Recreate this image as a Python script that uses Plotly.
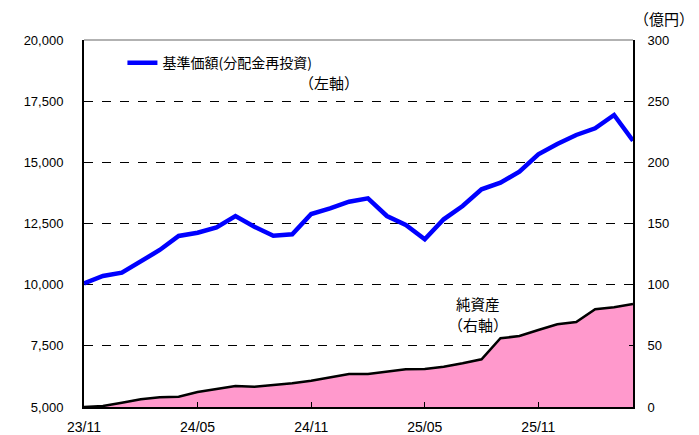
import plotly.graph_objects as go

months = ["23/11", "23/12", "24/01", "24/02", "24/03", "24/04", "24/05", "24/06", "24/07", "24/08",
          "24/09", "24/10", "24/11", "24/12", "25/01", "25/02", "25/03", "25/04", "25/05", "25/06",
          "25/07", "25/08", "25/09", "25/10", "25/11", "25/12", "26/01", "26/02", "26/03", "26/04"]

nav = [10056, 10354, 10489, 10938, 11417, 11989, 12124, 12344, 12806, 12369,
       12001, 12058, 12888, 13121, 13391, 13530, 12806, 12438, 11854, 12671,
       13215, 13897, 14167, 14617, 15328, 15749, 16117, 16390, 16934, 15884]

net_assets = [0.0, 0.8, 3.5, 6.3, 7.9, 8.4, 12.3, 14.5, 17.2, 16.6,
              17.7, 19.4, 21.5, 24.5, 27.0, 27.0, 28.9, 30.8, 31.1, 32.9,
              35.7, 39.0, 56.2, 58.0, 62.9, 67.6, 69.5, 79.9, 81.5, 84.2]

tick_months = ["23/11", "24/05", "24/11", "25/05", "25/11"]
left_ticks = [5000, 7500, 10000, 12500, 15000, 17500, 20000]
right_ticks = [0, 50, 100, 150, 200, 250, 300]

idx = list(range(len(months)))
tick_idx = [months.index(m) for m in tick_months]

NUM_FONT = "Liberation Sans, Arial, sans-serif"
JP_FONT = "Noto Sans CJK JP, sans-serif"

fig = go.Figure()

fig.add_trace(go.Scatter(
    x=idx, y=net_assets, yaxis="y2", mode="lines",
    fill="tozeroy", fillcolor="#FF99CC",
    line=dict(color="black", width=2.5),
    name="純資産(右軸)", showlegend=False, hoverinfo="skip"))

fig.add_trace(go.Scatter(
    x=idx, y=nav, yaxis="y", mode="lines",
    line=dict(color="#0000FF", width=4.5),
    name="基準価額(分配金再投資)", showlegend=True))

# page body has an 8px default margin; size the figure so the plot area lands where the reference has it
fig.update_layout(
    width=691, height=427,
    margin=dict(l=76, r=66, t=32, b=28, autoexpand=False),
    paper_bgcolor="white", plot_bgcolor="white",
    font=dict(family=NUM_FONT, size=12, color="black"),
    xaxis=dict(
        range=[0, len(months) - 1], tickmode="array",
        tickvals=tick_idx, ticktext=tick_months,
        ticks="inside", ticklen=5, tickcolor="black", tickwidth=1,
        showline=True, linecolor="black", linewidth=2,
        showgrid=False, zeroline=False, automargin=False,
        tickfont=dict(family=NUM_FONT, size=14),
        ticklabelstandoff=6,
    ),
    yaxis=dict(
        range=[5000, 20000], tickmode="array", tickvals=left_ticks,
        ticktext=[f"{v:,}" for v in left_ticks],
        showline=True, linecolor="black", linewidth=2,
        showgrid=True, gridcolor="black", gridwidth=1, griddash="dash",
        zeroline=False, ticks="", automargin=False,
        tickfont=dict(family=NUM_FONT, size=13),
        ticklabelstandoff=16,
    ),
    yaxis2=dict(
        range=[0, 300], overlaying="y", side="right",
        tickmode="array", tickvals=right_ticks,
        showline=True, linecolor="black", linewidth=2,
        showgrid=False, zeroline=False, automargin=False,
        ticks="inside", ticklen=4, tickcolor="black",
        tickfont=dict(family=NUM_FONT, size=13),
        ticklabelstandoff=10,
    ),
    legend=dict(
        x=0.07, y=0.937, xanchor="left", yanchor="middle",
        bgcolor="rgba(0,0,0,0)", borderwidth=0,
        font=dict(family=JP_FONT, size=14),
    ),
    shapes=[dict(type="line", xref="paper", yref="paper", x0=0, x1=1, y0=1, y1=1,
                 line=dict(color="#999999", width=1.5))],
    annotations=[
        dict(text="（左軸）", xref="paper", yref="paper", x=(329 - 84) / 549, y=(407 - 82) / 367,
             showarrow=False, font=dict(family=JP_FONT, size=15), xanchor="center", yanchor="middle"),
        dict(text="純資産", xref="paper", yref="paper", x=(478 - 84) / 549, y=(407 - 303) / 367,
             showarrow=False, font=dict(family=JP_FONT, size=14.5), xanchor="center", yanchor="middle"),
        dict(text="（右軸）", xref="paper", yref="paper", x=(478 - 84) / 549, y=(407 - 324) / 367,
             showarrow=False, font=dict(family=JP_FONT, size=15), xanchor="center", yanchor="middle"),
        dict(text="（億円）", xref="paper", yref="paper", x=(664 - 84) / 549, y=(407 - 18) / 367,
             showarrow=False, font=dict(family=JP_FONT, size=15), xanchor="center", yanchor="middle"),
    ],
)

fig.write_html("out.html")
